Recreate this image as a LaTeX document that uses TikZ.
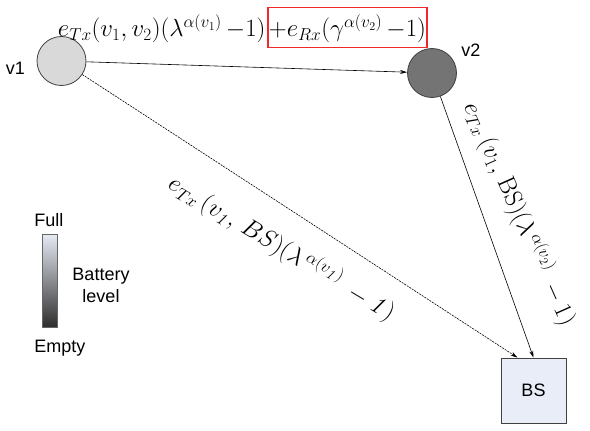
\documentclass[tikz,border=0pt]{standalone}
\usepackage[no-math]{fontspec}
\setmainfont{Liberation Sans}
\usetikzlibrary{arrows.meta}
\definecolor{nodelight}{HTML}{D9D9D9}
\definecolor{nodedark}{HTML}{747474}
\definecolor{bsfill}{HTML}{E8EDF7}
\definecolor{batfull}{HTML}{E6EBF4}
\definecolor{batempty}{HTML}{2E2E2E}
\definecolor{markred}{HTML}{F02828}
\begin{document}
\begin{tikzpicture}[x=1pt,y=-1pt,line width=.8pt,
  sensor/.style={circle,draw=black!75,minimum size=49pt,inner sep=0pt},
  link/.style={-{Stealth[length=7pt,width=4pt]},line width=.6pt},
  lbl/.style={font=\fontsize{18}{22}\selectfont,inner sep=0pt},
  cost/.style={font=\fontsize{23.3}{28}\selectfont,inner sep=0pt}]
\useasboundingbox (0,0) rectangle (590,431);
\node[sensor,fill=nodelight] (v1) at (61.5,61) {};
\node[sensor,fill=nodedark] (v2) at (432,73) {};
\node[draw=black!75,fill=bsfill,minimum size=65pt,inner sep=0pt,lbl] (bs) at (533.5,390.5) {BS};
\node[lbl] (v1lbl) at (15.5,68) {v1};
\node[lbl] (v2lbl) at (471,50.5) {v2};
\coordinate (bsin) at ([xshift=-16pt]bs.north);
\draw[link] (v1) -- (v2);
\draw[link] (v2) -- (bs.north);
\draw[link,dash pattern=on 2pt off 1pt] (v1) -- (bsin);
\node[cost,font=\fontsize{23.5}{28}\selectfont,draw=markred,line width=1.2pt,minimum width=159pt,text height=28pt,text depth=9pt,inner ysep=1.5pt,anchor=base] (rx) at (347.5,37) {${+}e_{Rx}(\gamma^{\alpha(v_2)}\,{-}1)$};
\node[cost,anchor=base east,inner xsep=1.5pt] (tx) at (rx.base west) {$e_{Tx}(v_1,v_2)(\lambda^{\alpha(v_1)}\,{-}1)$};
\node[cost,font=\fontsize{25}{30}\selectfont,rotate=-66] (c2) at (520,214) {$e_{Tx}\,(v_1,\,\mathrm{BS})(\lambda^{\,\alpha(v_2)}\;-1)$};
\node[cost,font=\fontsize{27}{32}\selectfont,rotate=-31] (c1) at (282,248) {$e_{Tx}\,(v_{\mathit{1}},\,BS)(\lambda^{\,\alpha(v_{\mathit{1}})}\;-\mathit{1})$};
\node[draw=black!60,minimum width=15pt,minimum height=93pt,inner sep=0pt,top color=batfull,bottom color=batempty] (bat) at (49.5,280.5) {};
\node[lbl,anchor=south west] (full) at (34,227) {Full};
\node[lbl,anchor=north west] (empty) at (34,340) {Empty};
\node[lbl,align=center] (level) at (101,285) {Battery\\level};
\end{tikzpicture}
\end{document}
